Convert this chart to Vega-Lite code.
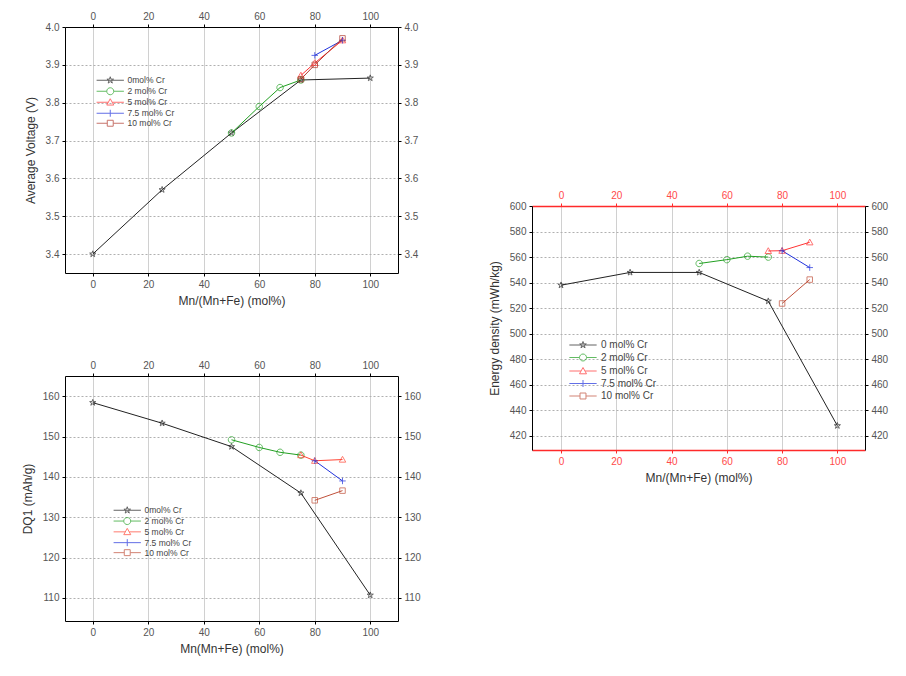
{
  "$schema": "https://vega.github.io/schema/vega-lite/v6.json",
  "background": "white",
  "padding": {"left": 21, "top": 11, "right": 5, "bottom": 5},
  "config": {
    "view": {"stroke": null},
    "font": "Liberation Sans",
    "axis": {
      "labelFontSize": 10, "labelColor": "#555555", "titleFontSize": 12, "titleColor": "#333333",
      "titleFontWeight": "normal", "domainColor": "#000000", "tickColor": "#000000", "tickSize": 3,
      "gridColor": "#d0d0d0", "labelPadding": 3
    },
    "legend": {"titleFontWeight": "normal"}
  },
  "datasets": {
    "volt": [
      {"x": 0, "y": 3.40, "s": "0mol% Cr"}, {"x": 25, "y": 3.57, "s": "0mol% Cr"}, {"x": 50, "y": 3.72, "s": "0mol% Cr"}, {"x": 75, "y": 3.86, "s": "0mol% Cr"}, {"x": 100, "y": 3.865, "s": "0mol% Cr"},
      {"x": 50, "y": 3.72, "s": "2 mol% Cr"}, {"x": 60, "y": 3.79, "s": "2 mol% Cr"}, {"x": 67.5, "y": 3.84, "s": "2 mol% Cr"}, {"x": 75, "y": 3.86, "s": "2 mol% Cr"},
      {"x": 75, "y": 3.872, "s": "5 mol% Cr"}, {"x": 80, "y": 3.905, "s": "5 mol% Cr"}, {"x": 90, "y": 3.965, "s": "5 mol% Cr"},
      {"x": 80, "y": 3.925, "s": "7.5 mol% Cr"}, {"x": 90, "y": 3.965, "s": "7.5 mol% Cr"},
      {"x": 75, "y": 3.862, "s": "10 mol% Cr"}, {"x": 80, "y": 3.90, "s": "10 mol% Cr"}, {"x": 90, "y": 3.97, "s": "10 mol% Cr"}
    ],
    "dq": [
      {"x": 0, "y": 158.4, "s": "0mol% Cr"}, {"x": 25, "y": 153.3, "s": "0mol% Cr"}, {"x": 50, "y": 147.5, "s": "0mol% Cr"}, {"x": 75, "y": 136, "s": "0mol% Cr"}, {"x": 100, "y": 110.7, "s": "0mol% Cr"},
      {"x": 50, "y": 149.2, "s": "2 mol% Cr"}, {"x": 60, "y": 147.3, "s": "2 mol% Cr"}, {"x": 67.5, "y": 146.1, "s": "2 mol% Cr"}, {"x": 75, "y": 145.4, "s": "2 mol% Cr"},
      {"x": 75, "y": 145.4, "s": "5 mol% Cr"}, {"x": 80, "y": 144, "s": "5 mol% Cr"}, {"x": 90, "y": 144.3, "s": "5 mol% Cr"},
      {"x": 80, "y": 144, "s": "7.5 mol% Cr"}, {"x": 90, "y": 139, "s": "7.5 mol% Cr"},
      {"x": 80, "y": 134.2, "s": "10 mol% Cr"}, {"x": 90, "y": 136.6, "s": "10 mol% Cr"}
    ],
    "energy": [
      {"x": 0, "y": 538, "s": "0 mol% Cr"}, {"x": 25, "y": 548, "s": "0 mol% Cr"}, {"x": 50, "y": 548, "s": "0 mol% Cr"}, {"x": 75, "y": 525.5, "s": "0 mol% Cr"}, {"x": 100, "y": 428, "s": "0 mol% Cr"},
      {"x": 50, "y": 555, "s": "2 mol% Cr"}, {"x": 60, "y": 558, "s": "2 mol% Cr"}, {"x": 67.5, "y": 560.7, "s": "2 mol% Cr"}, {"x": 75, "y": 560, "s": "2 mol% Cr"},
      {"x": 75, "y": 564.8, "s": "5 mol% Cr"}, {"x": 80, "y": 565, "s": "5 mol% Cr"}, {"x": 90, "y": 571.6, "s": "5 mol% Cr"},
      {"x": 80, "y": 565, "s": "7.5 mol% Cr"}, {"x": 90, "y": 551.8, "s": "7.5 mol% Cr"},
      {"x": 80, "y": 523.7, "s": "10 mol% Cr"}, {"x": 90, "y": 542.4, "s": "10 mol% Cr"}
    ]
  },
  "hconcat": [
    {
      "vconcat": [
        {
          "width": 333, "height": 246,
          "data": {"name": "volt"},
          "layer": [
            {
              "mark": {"type": "line", "strokeWidth": 1},
              "encoding": {
                "x": {"field": "x", "type": "quantitative", "scale": {"domain": [-10, 110], "nice": false, "zero": false},
                      "axis": {"values": [0, 20, 40, 60, 80, 100], "title": "Mn/(Mn+Fe) (mol%)", "grid": true, "titlePadding": 6}},
                "y": {"field": "y", "type": "quantitative", "scale": {"domain": [3.35, 4.0], "nice": false, "zero": false},
                      "axis": {"values": [3.4, 3.5, 3.6, 3.7, 3.8, 3.9, 4.0], "format": ".1f", "title": "Average Voltage (V)", "grid": true, "gridDash": [2, 2], "gridColor": "#b0b0b0", "titlePadding": 8}},
                "color": {"field": "s", "type": "nominal",
                          "scale": {"domain": ["0mol% Cr", "2 mol% Cr", "5 mol% Cr", "7.5 mol% Cr", "10 mol% Cr"], "range": ["#222222", "#22a022", "#ff3333", "#2233dd", "#b03a2e"]},
                          "legend": {"orient": "none", "legendX": 41, "legendY": 49, "title": null, "labelFontSize": 8.5, "labelColor": "#444444", "symbolSize": 49, "labelOffset": 13, "rowPadding": -1, "padding": 0, "symbolStrokeWidth": 1, "symbolFillColor": "transparent",
                                     "symbolType": {"expr": "substring(datum.value,0,1)=='0' ? 'M-3.9,0H3.9M0,-1L0.22,-0.31L0.95,-0.31L0.36,0.12L0.59,0.81L0,0.38L-0.59,0.81L-0.36,0.12L-0.95,-0.31L-0.22,-0.31Z' : substring(datum.value,0,1)=='2' ? 'M-3.9,0H-1M1,0H3.9M1,0A1,1,0,1,1,-1,0A1,1,0,1,1,1,0Z' : substring(datum.value,0,1)=='5' ? 'M-3.9,0H-0.6M0.6,0H3.9M0,-1L1,0.8L-1,0.8Z' : substring(datum.value,0,1)=='7' ? 'M-3.9,0H3.9M0,-1V1' : 'M-3.9,0H-0.85M0.85,0H3.9M-0.85,-0.85H0.85V0.85H-0.85Z'"}}}
              }
            },
            {"transform": [{"filter": "substring(datum.s,0,1)=='0'"}], "mark": {"type": "point", "filled": false, "size": 42, "strokeWidth": 1, "shape": "M0,-1L0.22,-0.31L0.95,-0.31L0.36,0.12L0.59,0.81L0,0.38L-0.59,0.81L-0.36,0.12L-0.95,-0.31L-0.22,-0.31Z"},
             "encoding": {"x": {"field": "x", "type": "quantitative", "axis": null}, "y": {"field": "y", "type": "quantitative", "axis": null}, "color": {"field": "s", "type": "nominal"}}},
            {"transform": [{"filter": "substring(datum.s,0,1)=='2'"}], "mark": {"type": "point", "filled": false, "size": 42, "strokeWidth": 1, "shape": "M1,0A1,1,0,1,1,-1,0A1,1,0,1,1,1,0Z"},
             "encoding": {"x": {"field": "x", "type": "quantitative", "axis": null}, "y": {"field": "y", "type": "quantitative", "axis": null}, "color": {"field": "s", "type": "nominal"}}},
            {"transform": [{"filter": "substring(datum.s,0,1)=='5'"}], "mark": {"type": "point", "filled": false, "size": 42, "strokeWidth": 1, "shape": "M0,-1L1,0.8L-1,0.8Z"},
             "encoding": {"x": {"field": "x", "type": "quantitative", "axis": null}, "y": {"field": "y", "type": "quantitative", "axis": null}, "color": {"field": "s", "type": "nominal"}}},
            {"transform": [{"filter": "substring(datum.s,0,1)=='7'"}], "mark": {"type": "point", "filled": false, "size": 42, "strokeWidth": 1, "shape": "M-1,0H1M0,-1V1"},
             "encoding": {"x": {"field": "x", "type": "quantitative", "axis": null}, "y": {"field": "y", "type": "quantitative", "axis": null}, "color": {"field": "s", "type": "nominal"}}},
            {"transform": [{"filter": "substring(datum.s,0,1)=='1'"}], "mark": {"type": "point", "filled": false, "size": 42, "strokeWidth": 1, "shape": "M-0.85,-0.85H0.85V0.85H-0.85Z"},
             "encoding": {"x": {"field": "x", "type": "quantitative", "axis": null}, "y": {"field": "y", "type": "quantitative", "axis": null}, "color": {"field": "s", "type": "nominal"}}},
            {
              "mark": {"type": "point", "opacity": 0},
              "encoding": {
                "x": {"field": "x", "type": "quantitative", "axis": {"orient": "top", "values": [0, 20, 40, 60, 80, 100], "title": null, "grid": false}},
                "y": {"field": "y", "type": "quantitative", "axis": {"orient": "right", "values": [3.4, 3.5, 3.6, 3.7, 3.8, 3.9, 4.0], "format": ".1f", "title": null, "grid": false}}
              }
            }
          ],
          "resolve": {"axis": {"x": "independent", "y": "independent"}}
        },
        {
          "width": 333, "height": 245,
          "data": {"name": "dq"},
          "layer": [
            {
              "mark": {"type": "line", "strokeWidth": 1},
              "encoding": {
                "x": {"field": "x", "type": "quantitative", "scale": {"domain": [-10, 110], "nice": false, "zero": false},
                      "axis": {"values": [0, 20, 40, 60, 80, 100], "title": "Mn(Mn+Fe) (mol%)", "grid": true, "titlePadding": 6}},
                "y": {"field": "y", "type": "quantitative", "scale": {"domain": [104.3, 165], "nice": false, "zero": false},
                      "axis": {"values": [110, 120, 130, 140, 150, 160], "title": "DQ1 (mAh/g)", "grid": true, "gridDash": [2, 2], "gridColor": "#b0b0b0", "titlePadding": 8}},
                "color": {"field": "s", "type": "nominal",
                          "scale": {"domain": ["0mol% Cr", "2 mol% Cr", "5 mol% Cr", "7.5 mol% Cr", "10 mol% Cr"], "range": ["#222222", "#22a022", "#ff4433", "#2233dd", "#c0503a"]},
                          "legend": {"orient": "none", "legendX": 58, "legendY": 130, "title": null, "labelFontSize": 8.5, "labelColor": "#444444", "symbolSize": 49, "labelOffset": 13, "rowPadding": -1.2, "padding": 0, "symbolStrokeWidth": 1, "symbolFillColor": "transparent",
                                     "symbolType": {"expr": "substring(datum.value,0,1)=='0' ? 'M-3.9,0H3.9M0,-1L0.22,-0.31L0.95,-0.31L0.36,0.12L0.59,0.81L0,0.38L-0.59,0.81L-0.36,0.12L-0.95,-0.31L-0.22,-0.31Z' : substring(datum.value,0,1)=='2' ? 'M-3.9,0H-1M1,0H3.9M1,0A1,1,0,1,1,-1,0A1,1,0,1,1,1,0Z' : substring(datum.value,0,1)=='5' ? 'M-3.9,0H-0.6M0.6,0H3.9M0,-1L1,0.8L-1,0.8Z' : substring(datum.value,0,1)=='7' ? 'M-3.9,0H3.9M0,-1V1' : 'M-3.9,0H-0.85M0.85,0H3.9M-0.85,-0.85H0.85V0.85H-0.85Z'"}}}
              }
            },
            {"transform": [{"filter": "substring(datum.s,0,1)=='0'"}], "mark": {"type": "point", "filled": false, "size": 42, "strokeWidth": 1, "shape": "M0,-1L0.22,-0.31L0.95,-0.31L0.36,0.12L0.59,0.81L0,0.38L-0.59,0.81L-0.36,0.12L-0.95,-0.31L-0.22,-0.31Z"},
             "encoding": {"x": {"field": "x", "type": "quantitative", "axis": null}, "y": {"field": "y", "type": "quantitative", "axis": null}, "color": {"field": "s", "type": "nominal"}}},
            {"transform": [{"filter": "substring(datum.s,0,1)=='2'"}], "mark": {"type": "point", "filled": false, "size": 42, "strokeWidth": 1, "shape": "M1,0A1,1,0,1,1,-1,0A1,1,0,1,1,1,0Z"},
             "encoding": {"x": {"field": "x", "type": "quantitative", "axis": null}, "y": {"field": "y", "type": "quantitative", "axis": null}, "color": {"field": "s", "type": "nominal"}}},
            {"transform": [{"filter": "substring(datum.s,0,1)=='5'"}], "mark": {"type": "point", "filled": false, "size": 42, "strokeWidth": 1, "shape": "M0,-1L1,0.8L-1,0.8Z"},
             "encoding": {"x": {"field": "x", "type": "quantitative", "axis": null}, "y": {"field": "y", "type": "quantitative", "axis": null}, "color": {"field": "s", "type": "nominal"}}},
            {"transform": [{"filter": "substring(datum.s,0,1)=='7'"}], "mark": {"type": "point", "filled": false, "size": 42, "strokeWidth": 1, "shape": "M-1,0H1M0,-1V1"},
             "encoding": {"x": {"field": "x", "type": "quantitative", "axis": null}, "y": {"field": "y", "type": "quantitative", "axis": null}, "color": {"field": "s", "type": "nominal"}}},
            {"transform": [{"filter": "substring(datum.s,0,1)=='1'"}], "mark": {"type": "point", "filled": false, "size": 42, "strokeWidth": 1, "shape": "M-0.85,-0.85H0.85V0.85H-0.85Z"},
             "encoding": {"x": {"field": "x", "type": "quantitative", "axis": null}, "y": {"field": "y", "type": "quantitative", "axis": null}, "color": {"field": "s", "type": "nominal"}}},
            {
              "mark": {"type": "point", "opacity": 0},
              "encoding": {
                "x": {"field": "x", "type": "quantitative", "axis": {"orient": "top", "values": [0, 20, 40, 60, 80, 100], "title": null, "grid": false}},
                "y": {"field": "y", "type": "quantitative", "axis": {"orient": "right", "values": [110, 120, 130, 140, 150, 160], "title": null, "grid": false}}
              }
            }
          ],
          "resolve": {"axis": {"x": "independent", "y": "independent"}}
        }
      ],
      "spacing": 54,
      "resolve": {"scale": {"x": "independent", "y": "independent", "color": "independent"}, "legend": {"color": "independent"}}
    },
    {
      "vconcat": [
        {"width": 333, "height": 163, "data": {"values": [{"a": 1}]}, "mark": {"type": "point", "opacity": 0}, "encoding": {}},
        {
          "width": 333, "height": 244,
          "data": {"name": "energy"},
          "layer": [
            {
              "mark": {"type": "line", "strokeWidth": 1},
              "encoding": {
                "x": {"field": "x", "type": "quantitative", "scale": {"domain": [-10.5, 110], "nice": false, "zero": false},
                      "axis": {"values": [0, 20, 40, 60, 80, 100], "title": "Mn/(Mn+Fe) (mol%)", "grid": true, "titlePadding": 6, "domainColor": "#ff2a2a", "domainWidth": 1.5, "labelColor": "#ff4a4a", "tickColor": "#ff2a2a"}},
                "y": {"field": "y", "type": "quantitative", "scale": {"domain": [409, 600], "nice": false, "zero": false},
                      "axis": {"values": [420, 440, 460, 480, 500, 520, 540, 560, 580, 600], "title": "Energy density (mWh/kg)", "grid": true, "gridDash": [2, 2], "gridColor": "#b0b0b0", "titlePadding": 8}},
                "color": {"field": "s", "type": "nominal",
                          "scale": {"domain": ["0 mol% Cr", "2 mol% Cr", "5 mol% Cr", "7.5 mol% Cr", "10 mol% Cr"], "range": ["#222222", "#22a022", "#ff3333", "#2233dd", "#c0503a"]},
                          "legend": {"orient": "none", "legendX": 46, "legendY": 134, "title": null, "labelFontSize": 10, "labelColor": "#444444", "symbolSize": 49, "labelOffset": 13, "rowPadding": 1.5, "padding": 0, "symbolStrokeWidth": 1, "symbolFillColor": "transparent",
                                     "symbolType": {"expr": "substring(datum.value,0,1)=='0' ? 'M-3.9,0H3.9M0,-1L0.22,-0.31L0.95,-0.31L0.36,0.12L0.59,0.81L0,0.38L-0.59,0.81L-0.36,0.12L-0.95,-0.31L-0.22,-0.31Z' : substring(datum.value,0,1)=='2' ? 'M-3.9,0H-1M1,0H3.9M1,0A1,1,0,1,1,-1,0A1,1,0,1,1,1,0Z' : substring(datum.value,0,1)=='5' ? 'M-3.9,0H-0.6M0.6,0H3.9M0,-1L1,0.8L-1,0.8Z' : substring(datum.value,0,1)=='7' ? 'M-3.9,0H3.9M0,-1V1' : 'M-3.9,0H-0.85M0.85,0H3.9M-0.85,-0.85H0.85V0.85H-0.85Z'"}}}
              }
            },
            {"transform": [{"filter": "substring(datum.s,0,1)=='0'"}], "mark": {"type": "point", "filled": false, "size": 42, "strokeWidth": 1, "shape": "M0,-1L0.22,-0.31L0.95,-0.31L0.36,0.12L0.59,0.81L0,0.38L-0.59,0.81L-0.36,0.12L-0.95,-0.31L-0.22,-0.31Z"},
             "encoding": {"x": {"field": "x", "type": "quantitative", "axis": null}, "y": {"field": "y", "type": "quantitative", "axis": null}, "color": {"field": "s", "type": "nominal"}}},
            {"transform": [{"filter": "substring(datum.s,0,1)=='2'"}], "mark": {"type": "point", "filled": false, "size": 42, "strokeWidth": 1, "shape": "M1,0A1,1,0,1,1,-1,0A1,1,0,1,1,1,0Z"},
             "encoding": {"x": {"field": "x", "type": "quantitative", "axis": null}, "y": {"field": "y", "type": "quantitative", "axis": null}, "color": {"field": "s", "type": "nominal"}}},
            {"transform": [{"filter": "substring(datum.s,0,1)=='5'"}], "mark": {"type": "point", "filled": false, "size": 42, "strokeWidth": 1, "shape": "M0,-1L1,0.8L-1,0.8Z"},
             "encoding": {"x": {"field": "x", "type": "quantitative", "axis": null}, "y": {"field": "y", "type": "quantitative", "axis": null}, "color": {"field": "s", "type": "nominal"}}},
            {"transform": [{"filter": "substring(datum.s,0,1)=='7'"}], "mark": {"type": "point", "filled": false, "size": 42, "strokeWidth": 1, "shape": "M-1,0H1M0,-1V1"},
             "encoding": {"x": {"field": "x", "type": "quantitative", "axis": null}, "y": {"field": "y", "type": "quantitative", "axis": null}, "color": {"field": "s", "type": "nominal"}}},
            {"transform": [{"filter": "substring(datum.s,0,1)=='1'"}], "mark": {"type": "point", "filled": false, "size": 42, "strokeWidth": 1, "shape": "M-0.85,-0.85H0.85V0.85H-0.85Z"},
             "encoding": {"x": {"field": "x", "type": "quantitative", "axis": null}, "y": {"field": "y", "type": "quantitative", "axis": null}, "color": {"field": "s", "type": "nominal"}}},
            {
              "mark": {"type": "point", "opacity": 0},
              "encoding": {
                "x": {"field": "x", "type": "quantitative", "axis": {"orient": "top", "values": [0, 20, 40, 60, 80, 100], "title": null, "grid": false, "domainColor": "#ff2a2a", "domainWidth": 1.5, "labelColor": "#ff4a4a", "tickColor": "#ff2a2a"}},
                "y": {"field": "y", "type": "quantitative", "axis": {"orient": "right", "values": [420, 440, 460, 480, 500, 520, 540, 560, 580, 600], "title": null, "grid": false}}
              }
            }
          ],
          "resolve": {"axis": {"x": "independent", "y": "independent"}}
        }
      ],
      "spacing": 0,
      "resolve": {"scale": {"x": "independent", "y": "independent", "color": "independent"}, "legend": {"color": "independent"}}
    }
  ],
  "spacing": 67,
  "resolve": {"scale": {"x": "independent", "y": "independent", "color": "independent"}, "legend": {"color": "independent"}}
}
